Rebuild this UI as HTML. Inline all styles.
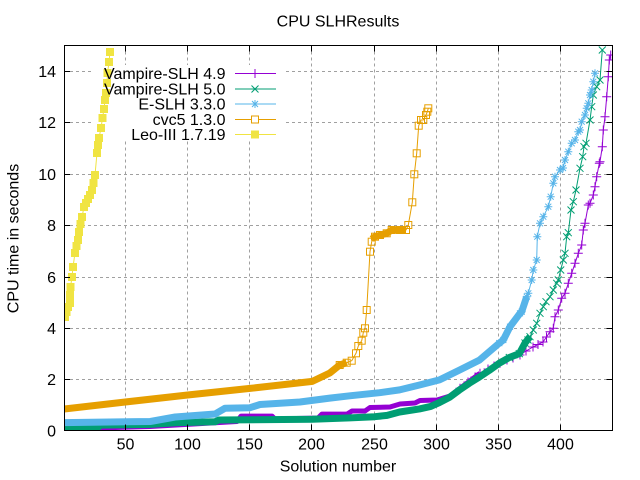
<!DOCTYPE html>
<html><head><meta charset="utf-8">
<style>
html,body{margin:0;padding:0;background:#fff}
svg{display:block}
text{font-family:"Liberation Sans",Arial,sans-serif;font-size:16px;fill:#000}
</style></head><body>
<svg width="640" height="480" xmlns="http://www.w3.org/2000/svg">
<defs>
<clipPath id="c"><rect x="64" y="45.5" width="548.5" height="385"/></clipPath>
<marker id="mp" markerWidth="10" markerHeight="10" refX="5" refY="5" markerUnits="userSpaceOnUse"><path d="M0.5,5H9.5M5,0.5V9.5" stroke="#9400d3" stroke-width="1" fill="none"/></marker>
<marker id="mg" markerWidth="10" markerHeight="10" refX="5" refY="5" markerUnits="userSpaceOnUse"><path d="M1.5,1.5L8.5,8.5M1.5,8.5L8.5,1.5" stroke="#009e73" stroke-width="1" fill="none"/></marker>
<marker id="mb" markerWidth="10" markerHeight="10" refX="5" refY="5" markerUnits="userSpaceOnUse"><path d="M1,5H9M5,1V9M2,2L8,8M2,8L8,2" stroke="#56b4e9" stroke-width="1" fill="none"/></marker>
<marker id="mo" markerWidth="10" markerHeight="10" refX="5" refY="5" markerUnits="userSpaceOnUse"><rect x="1.5" y="1.5" width="7" height="7" fill="none" stroke="#e69f00" stroke-width="1"/></marker>
<marker id="my" markerWidth="10" markerHeight="10" refX="5" refY="5" markerUnits="userSpaceOnUse"><rect x="1" y="1" width="8" height="8" fill="#f0e442"/></marker>
</defs>
<rect width="640" height="480" fill="#fff"/>

<!-- grid -->
<g stroke="#a0a0a0" stroke-width="1" stroke-dasharray="3,3" fill="none">
<path d="M64,379.5H612.5M64,328.5H612.5M64,277.5H612.5M64,225.5H612.5M64,174.5H612.5M64,122.5H612.5M64,71.5H612.5"/>
<path d="M125.5,45.5V430.5M187.5,45.5V430.5M249.5,45.5V430.5M311.5,45.5V430.5M374.5,45.5V430.5M436.5,45.5V430.5M498.5,45.5V430.5M560.5,45.5V430.5"/>
</g>

<!-- legend background -->
<rect x="92" y="65" width="193" height="75" fill="#fff"/>

<g clip-path="url(#c)" fill="none" stroke-linejoin="round">
<!-- Vampire-SLH 4.9 -->
<polyline stroke="#9400d3" stroke-width="5" points="64.2,429 150,426.5 237,421.5 241,416.1 272,416.1 275,419 318,418 322,414.1 347,414.1 352,411 365,411 370,407.5 390,407 400,404 415,403 420,400.5 437,400 450,396 460,388.3 480,373.3"/>
<polyline stroke="#9400d3" stroke-width="1" marker-start="url(#mp)" marker-mid="url(#mp)" marker-end="url(#mp)" points="460,388.3 468,382 475,377 480,373.3 488,369 494,366 500,363.3 507,360 513,358 520,355 526,351 533,347 538,344.5 543,342 546.5,337 550,331.7 553.3,328.3 555,316.7 558.3,310 561.7,298.3 565,293.3 568.3,283.3 571.7,273.3 575,263.3 578.3,253.3 581.7,245 583.3,230 585,223.3 588.3,205 590,203.3 593.3,195 595,186.7 596.7,176.7 599.3,163.3 600,161.7 602.3,146.7 603.3,130 605,116.7 606.7,96.7 608.3,76.7 609.3,60 610.7,55"/>

<!-- Vampire-SLH 5.0 -->
<polyline stroke="#009e73" stroke-width="7" points="64.2,428.2 97.9,427.5 100.4,425.1 150.3,424.4 175.2,422.8 215.1,421.8 218.8,420 312.3,419.2 349.7,417.9 374.7,416.7 387.1,415.4 399.6,412 419.5,408.9 430.7,406.4 439.5,402.5 449.4,397.4 459.4,390 469.4,383.2 479.4,377 489.3,370.4 499.3,363.2 509.3,357.5 519.3,353.6 525,343 530,336.7"/>
<polyline stroke="#009e73" stroke-width="1" marker-start="url(#mg)" marker-mid="url(#mg)" marker-end="url(#mg)" points="509.3,357.5 519.3,353.6 525,343 528,340 530,336.7 533.3,330 536.7,323.3 540,313.3 543.3,306.7 546,301.7 550,296.7 553.3,290 556.7,283.3 558.3,280 560.7,270 563.3,260 565,253.3 566.7,236.7 568.3,232.7 571,210 573.3,201.7 576,190 580,168.3 582.7,156.7 584,146.7 586,143.3 590,120 591.7,106.7 593.3,95 596.7,86.7 600,80 602.3,50"/>

<!-- E-SLH 3.3.0 -->
<polyline stroke="#56b4e9" stroke-width="7" points="64.2,422.6 150.3,421.5 175.2,417 215.1,414 225.1,408.2 250,407.7 260,404.5 299.9,402 329.8,398.1 349.7,395.8 379.6,392.7 399.6,389.9 419.5,385 439.5,379.9 459.4,370.1 479.4,360.1 499.3,343.1 503.3,340 510,326.7 520,313.3 521.7,311.7 526.7,296.7"/>
<polyline stroke="#56b4e9" stroke-width="1" marker-start="url(#mb)" marker-mid="url(#mb)" marker-end="url(#mb)" points="499.3,343.1 503.3,340 510,326.7 520,313.3 521.7,311.7 526.7,296.7 528.3,293.3 531.7,280 533.3,270 536.7,260 537.3,236.7 540,223.3 543.3,216.7 548.3,206.7 550.7,196.7 553.3,183.3 555,176.7 560,170 563,168 565,160 568.3,151.7 571.7,143.3 575,140 578.3,131.7 580,130 581.7,121.7 585,115 586.7,108.3 588.3,103.3 590,95 591.7,90 593.3,81.7 595,73.3"/>

<!-- cvc5 1.3.0 -->
<polyline stroke="#e69f00" stroke-width="7" points="64.2,409 125.3,402 187.7,395 250,388.4 312.3,381.4 329.8,373 339.7,365 346.7,362.7"/>
<polyline stroke="#e69f00" stroke-width="7" points="371.7,239 375,236.7 386.7,233.3 391.7,230 406,230"/>
<polyline stroke="#e69f00" stroke-width="1" marker-start="url(#mo)" marker-mid="url(#mo)" marker-end="url(#mo)" points="339.7,365 346.7,362.7 351.7,360.7 356,353.3 358.3,346 361.7,340.7 363.3,332.7 365,328.3 366.7,310 370,251.7 371.7,241.7 375,236.7 380,235 386.7,233.3 391.7,230 400,230 406,230 408.3,225 412.3,202.3 414.3,174.3 416.7,153.3 418.7,125.7 421,120 423.3,120 426,115 427.3,111.7 428.3,108.3"/>

<!-- Leo-III 1.7.19 -->
<polyline stroke="#f0e442" stroke-width="1" marker-start="url(#my)" marker-mid="url(#my)" marker-end="url(#my)" points="65,317 66.5,312 68,307 70,303 70,295 70.5,287 72,277 73,267 75,253 76.5,246 78,240 79,232 80.5,224 82,217 84,207 86,203 88,199 90,195 92,190 93.5,183 95,175 97,153 98,145 99,138 101,128 102.5,118 104,109 105,100 106,93 107,83 107.5,73 109,62 110,52"/>
</g>

<!-- frame and ticks -->
<rect x="64.5" y="45.5" width="548" height="385" fill="none" stroke="#000" stroke-width="1"/>
<g stroke="#000" stroke-width="1" fill="none">
<path d="M64,379.5h6M64,328.5h6M64,277.5h6M64,225.5h6M64,174.5h6M64,122.5h6M64,71.5h6"/>
<path d="M612.5,379.5h-6M612.5,328.5h-6M612.5,277.5h-6M612.5,225.5h-6M612.5,174.5h-6M612.5,122.5h-6M612.5,71.5h-6"/>
<path d="M125.5,430.5v-6M187.5,430.5v-6M249.5,430.5v-6M311.5,430.5v-6M374.5,430.5v-6M436.5,430.5v-6M498.5,430.5v-6M560.5,430.5v-6"/>
<path d="M125.5,45.5v6M187.5,45.5v6M249.5,45.5v6M311.5,45.5v6M374.5,45.5v6M436.5,45.5v6M498.5,45.5v6M560.5,45.5v6"/>
</g>

<!-- y tick labels -->
<g text-anchor="end">
<text x="56" y="436.5">0</text>
<text x="56" y="385">2</text>
<text x="56" y="334">4</text>
<text x="56" y="283">6</text>
<text x="56" y="231">8</text>
<text x="56" y="180">10</text>
<text x="56" y="128">12</text>
<text x="56" y="77">14</text>
</g>
<!-- x tick labels -->
<g text-anchor="middle">
<text x="125.5" y="449.5">50</text>
<text x="187.5" y="449.5">100</text>
<text x="249.5" y="449.5">150</text>
<text x="311.5" y="449.5">200</text>
<text x="374.5" y="449.5">250</text>
<text x="436.5" y="449.5">300</text>
<text x="498.5" y="449.5">350</text>
<text x="560.5" y="449.5">400</text>
<text x="338" y="26.5">CPU SLHResults</text>
<text x="338" y="471.5">Solution number</text>
<text transform="translate(18.5,238.5) rotate(-90)">CPU time in seconds</text>
</g>

<!-- legend -->
<g text-anchor="end">
<text x="225.5" y="79">Vampire-SLH 4.9</text>
<text x="225.5" y="94.5">Vampire-SLH 5.0</text>
<text x="225.5" y="109.5">E-SLH 3.3.0</text>
<text x="225.5" y="125">cvc5 1.3.0</text>
<text x="225.5" y="140">Leo-III 1.7.19</text>
</g>
<g fill="none" stroke-width="1">
<path d="M235,73.5H276" stroke="#9400d3"/>
<path d="M250.5,73.5h9M255,69v9" stroke="#9400d3"/>
<path d="M235,89H276" stroke="#009e73"/>
<path d="M251.5,85.5l7,7M251.5,92.5l7,-7" stroke="#009e73"/>
<path d="M235,104H276" stroke="#56b4e9"/>
<path d="M251,104h8M255,100v8M252,101l6,6M252,107l6,-6" stroke="#56b4e9"/>
<path d="M235,119.5H276" stroke="#e69f00"/>
<rect x="251.5" y="116" width="7" height="7" stroke="#e69f00" fill="#fff"/>
<path d="M235,134.5H276" stroke="#f0e442"/>
<rect x="251" y="130.5" width="8" height="8" fill="#f0e442" stroke="none"/>
</g>
</svg>
</body></html>
